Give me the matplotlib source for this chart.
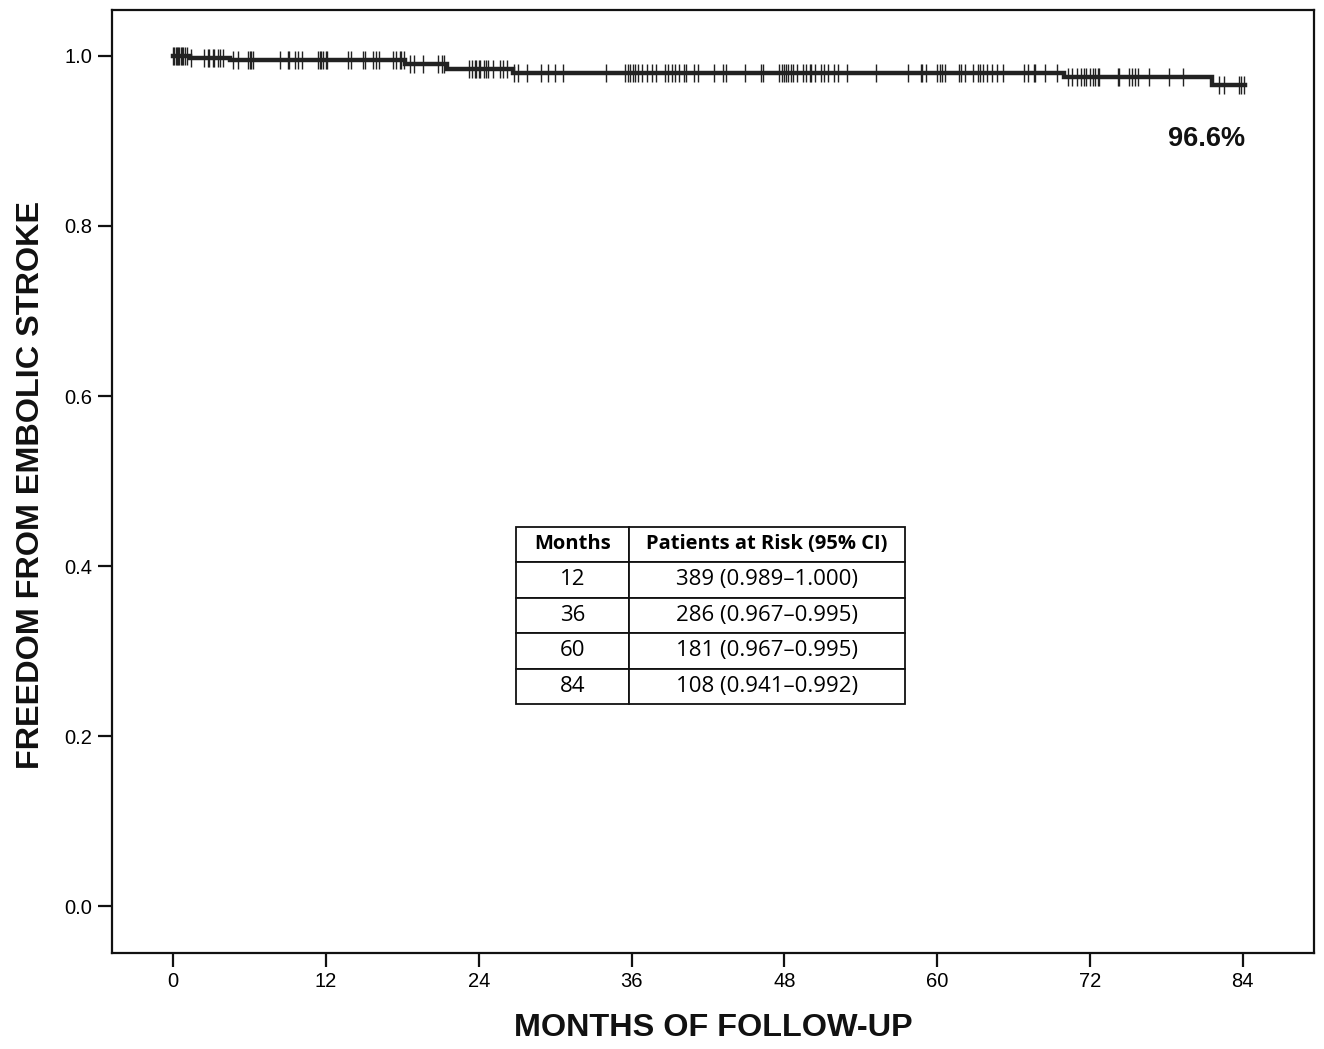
import numpy as np
import matplotlib
matplotlib.use("Agg")
import matplotlib.pyplot as plt

plt.rcParams['font.family'] = ['Liberation Sans', 'DejaVu Sans']

# Kaplan-Meier step curve (event times in months, survival after each step)
step_times = [0, 1.3, 4.5, 18.2, 21.5, 26.7, 70.0, 81.6]
step_surv = [1.0, 0.9975, 0.995, 0.990, 0.985, 0.980, 0.975, 0.966]
end_time = 84.2

# censored observations (months)
censor_times = [
    0.0, 0.1, 0.2, 0.3, 0.4, 0.5, 0.6, 0.7, 0.8, 0.9, 1.1, 1.4,
    2.4, 2.7, 2.8, 3.1, 3.2, 3.5, 3.7, 3.9, 4.7, 5.1, 5.9, 6.0, 6.1, 6.3,
    8.4, 9.0, 9.1, 9.6, 9.8, 10.1, 11.4, 11.5, 11.6, 11.8, 12.0, 12.1,
    13.7, 14.0, 14.9, 15.1, 15.7, 15.9, 16.2, 17.3, 17.5, 17.8, 17.9, 18.1,
    18.6, 18.9, 19.6, 20.8, 21.1, 21.3, 23.2, 23.5, 23.7, 23.8, 24.0, 24.1,
    24.4, 24.6, 24.7, 25.1, 25.7, 25.9, 26.2, 26.8, 27.1, 27.8, 28.9, 29.4,
    30.0, 30.6, 34.0, 35.5, 35.7, 35.9, 36.1, 36.3, 36.5, 36.8, 37.2, 37.6,
    37.9, 38.6, 38.9, 39.2, 39.4, 39.7, 40.1, 40.3, 40.9, 41.2, 42.5, 43.2,
    43.4, 44.9, 46.2, 46.3, 47.6, 47.8, 48.0, 48.1, 48.3, 48.5, 48.7, 49.0,
    49.5, 49.7, 50.0, 50.1, 50.4, 50.9, 51.1, 51.4, 51.9, 52.2, 52.9, 55.2,
    57.7, 58.7, 58.8, 59.1, 60.0, 60.2, 60.4, 60.6, 61.7, 61.9, 62.2, 62.8,
    63.2, 63.4, 63.6, 63.9, 64.3, 64.7, 65.2, 66.8, 67.1, 67.6, 67.7, 68.5,
    69.4, 70.3, 70.6, 71.0, 71.3, 71.5, 71.7, 72.0, 72.2, 72.4, 72.6, 72.7,
    74.2, 74.3, 75.1, 75.3, 75.5, 75.8, 76.6, 78.2, 79.3, 82.1, 82.5, 83.7,
    83.9, 84.1,
]

table_header = ['Months', 'Patients at Risk (95% CI)']
table_months = ['12', '36', '60', '84']
table_risk = ['389 (0.989\u20131.000)', '286 (0.967\u20130.995)',
              '181 (0.967\u20130.995)', '108 (0.941\u20130.992)']

x_ticks = [0, 12, 24, 36, 48, 60, 72, 84]
y_ticks = [0.0, 0.2, 0.4, 0.6, 0.8, 1.0]

fig = plt.figure(figsize=(13.24, 10.49), dpi=100)
ax = fig.add_axes([0.0846, 0.0915, 0.9079, 0.899])

line_color = '#222222'
xs = list(step_times) + [end_time]
ys = list(step_surv) + [step_surv[-1]]
ax.step(xs, ys, where='post', color=line_color, lw=3.2, solid_joinstyle='miter')

idx = np.searchsorted(step_times, censor_times, side='right') - 1
cens_y = np.array(step_surv)[idx]
ax.plot(censor_times, cens_y, ls='none', marker='|', markersize=13,
        markeredgewidth=1.0, color=line_color)

ax.text(end_time, 0.902, '96.6%', ha='right', va='center',
        fontsize=19.5, fontweight='bold', color='#111111')

ax.set_xlim(-4.8, 89.6)
ax.set_ylim(-0.055, 1.054)
ax.set_xticks(x_ticks)
ax.set_yticks(y_ticks)
ax.set_yticklabels(['%.1f' % v for v in y_ticks])
ax.tick_params(length=10, width=1.6, labelsize=14.5, color='#111111', pad=4)
for s in ax.spines.values():
    s.set_linewidth(1.6)
    s.set_color('#111111')

fig.text(0.539, 0.020, 'MONTHS OF FOLLOW-UP', ha='center', va='center',
         fontsize=23.3, fontweight='bold', color='#111111')
fig.text(0.0235, 0.5376, 'FREEDOM FROM EMBOLIC STROKE', ha='center', va='center',
         rotation=90, fontsize=23.3, fontweight='bold', color='#111111')

cell_text = [[m, r] for m, r in zip(table_months, table_risk)]
tbl = ax.table(cellText=cell_text, colLabels=table_header,
               colWidths=[0.29, 0.71], cellLoc='center',
               bbox=[0.336, 0.264, 0.324, 0.188])
tbl.auto_set_font_size(False)
for (r, c), cell in tbl.get_celld().items():
    cell.set_linewidth(1.3)
    cell.set_edgecolor('#111111')
    cell.get_text().set_fontfamily(['Open Sans', 'DejaVu Sans'])
    if r == 0:
        cell.get_text().set_fontsize(14.5)
        cell.get_text().set_fontweight('bold')
    else:
        cell.get_text().set_fontsize(16)

fig.savefig('out.png', dpi=100)
